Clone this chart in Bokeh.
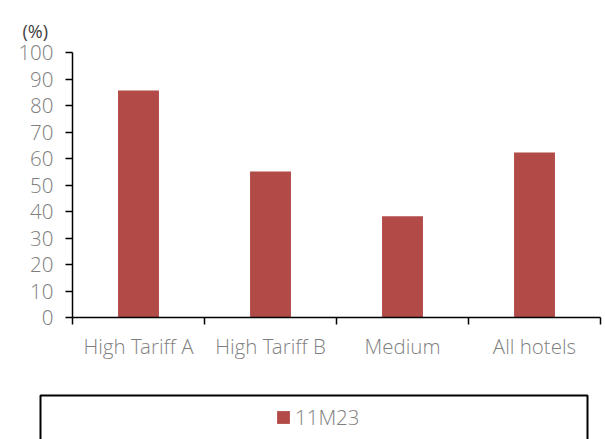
from bokeh.plotting import figure
from bokeh.layouts import column
from bokeh.models import (ColumnDataSource, Range1d, LinearAxis, FixedTicker,
                          Legend, LegendItem, BoxAnnotation, Title)
from bokeh.embed import file_html
from bokeh.resources import INLINE

# Occupancy by hotel segment
categories = ["High Tariff A", "High Tariff B", "Medium", "All hotels"]
occupancy_11m23 = [85.7, 55.1, 38.2, 62.3]
y_ticks = [0, 10, 20, 30, 40, 50, 60, 70, 80, 90, 100]
series_name = "11M23"
unit_text = "(%)"

BAR_COLOR = "#b24a47"
TEXT_COLOR = "#7f7f7f"
FONT = "Open Sans Light, Open Sans"
FONT_SIZE = "20.5px"

centers = [i + 0.5 for i in range(len(categories))]
edges = [float(i) for i in range(len(categories) + 1)]

src = ColumnDataSource(dict(x=centers, top=occupancy_11m23, cat=categories))

unit_title = Title(text=unit_text, align="left", offset=-50,
                   vertical_align="top", standoff=15,
                   text_font="Open Sans", text_font_style="normal",
                   text_font_size="18px", text_color="#404040")

p = figure(width=605, height=390, output_backend="svg", toolbar_location=None,
           x_range=Range1d(0, len(categories)), y_range=Range1d(0, 100),
           x_axis_type=None, y_axis_type=None, frame_align=False,
           title=unit_title,
           min_border_left=72, min_border_right=5,
           min_border_top=52, min_border_bottom=73)
p.outline_line_color = None
p.grid.visible = False
p.border_fill_color = "white"

p.vbar(x="x", top="top", bottom=0, width=0.31, source=src,
       fill_color=BAR_COLOR, line_color=None)

# y axis
ya = LinearAxis(ticker=FixedTicker(ticks=y_ticks))
ya.axis_line_color = "black"
ya.axis_line_width = 1.5
ya.major_tick_line_color = "black"
ya.major_tick_line_width = 1.5
ya.major_tick_in = 0
ya.major_tick_out = 7
ya.minor_tick_line_color = None
ya.major_label_standoff = 12
ya.major_label_text_font = FONT
ya.major_label_text_font_size = FONT_SIZE
ya.major_label_text_color = TEXT_COLOR
p.add_layout(ya, "left")

# x axis: labels at category centres, ticks at category boundaries
xa = LinearAxis(ticker=FixedTicker(ticks=centers, minor_ticks=edges))
xa.major_label_overrides = {c: name for c, name in zip(centers, categories)}
xa.axis_line_color = "black"
xa.axis_line_width = 1.5
xa.major_tick_line_color = None
xa.minor_tick_line_color = "black"
xa.minor_tick_line_width = 1.5
xa.minor_tick_in = 0
xa.minor_tick_out = 7
xa.major_label_standoff = 7
xa.major_label_text_font = FONT
xa.major_label_text_font_size = FONT_SIZE
xa.major_label_text_color = TEXT_COLOR
p.add_layout(xa, "below")

# legend strip underneath the chart; the swatch renderer shares the bar
# data but its y range sits above every bar, so only its legend key shows
leg = figure(width=605, height=49, output_backend="svg", toolbar_location=None,
             x_range=Range1d(0, len(categories)), y_range=Range1d(200, 201),
             x_axis_type=None, y_axis_type=None, frame_align=False,
             min_border=0)
leg.outline_line_color = None
leg.grid.visible = False
leg.border_fill_color = "white"

swatch = leg.vbar(x="x", top="top", bottom=0, width=0.31, source=src,
                  fill_color=BAR_COLOR, line_color=None)

leg.add_layout(BoxAnnotation(left=40, right=587, top=44, bottom=-20,
                             left_units="screen", right_units="screen",
                             top_units="screen", bottom_units="screen",
                             fill_color=None, line_color="black",
                             line_alpha=1.0, line_width=2))

legend = Legend(items=[LegendItem(label=series_name, renderers=[swatch])],
                location=(275, 8), orientation="horizontal",
                border_line_color=None, background_fill_color=None,
                padding=0, margin=0, glyph_width=16, glyph_height=16,
                label_standoff=4, label_text_font=FONT,
                label_text_font_size=FONT_SIZE, label_text_color=TEXT_COLOR)
leg.add_layout(legend)

layout = column(p, leg, spacing=0)
open("out.html", "w").write(file_html(layout, INLINE))
